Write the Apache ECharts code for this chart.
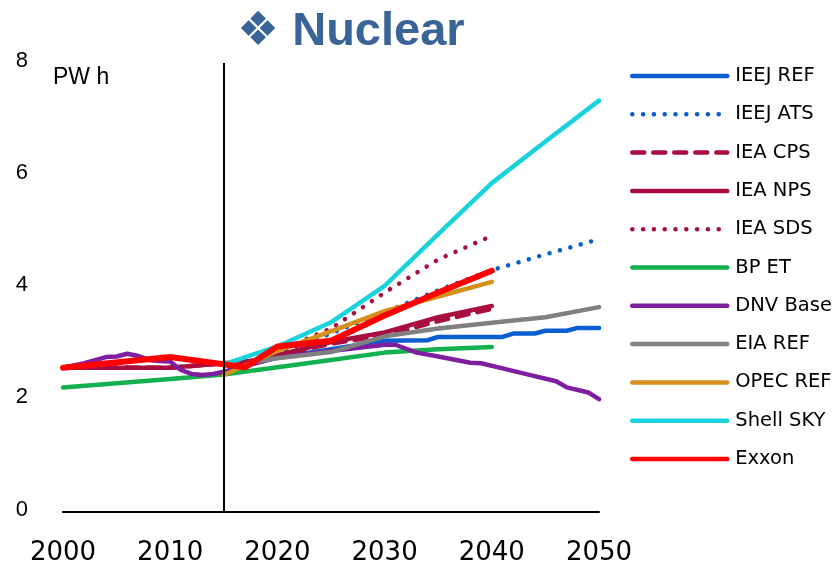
<!DOCTYPE html>
<html>
<head>
<meta charset="utf-8">
<title>Nuclear</title>
<script src="https://cdn.jsdelivr.net/npm/echarts@6/dist/echarts.min.js"></script>
<style>
  html, body { margin: 0; padding: 0; background: #ffffff; }
  #chart { width: 838px; height: 566px; }
</style>
</head>
<body>
<div id="chart"></div>
<script>
// Nuclear power generation outlooks, PWh

const xTicks = [2000, 2010, 2020, 2030, 2040, 2050];
const yTicks = [0, 2, 4, 6, 8];
const historyEnd = 2015;

const ieejRefYears  = [2017, 2020, 2025, 2030, 2034, 2035, 2041, 2042, 2044, 2045, 2047, 2048, 2050];
const ieejRefValues = [2.64, 2.75, 2.90, 3.05, 3.06, 3.12, 3.12, 3.18, 3.18, 3.23, 3.23, 3.28, 3.28];

const ieejAtsYears  = [2017, 2020, 2025, 2030, 2035, 2040, 2045, 2050];
const ieejAtsValues = [2.64, 2.82, 3.18, 3.56, 3.95, 4.31, 4.59, 4.86];

const ieaYears      = [2000, 2010, 2018, 2025, 2030, 2035, 2040];
const ieaCpsValues  = [2.57, 2.57, 2.70, 3.00, 3.15, 3.40, 3.62];
const ieaNpsValues  = [2.57, 2.57, 2.70, 3.03, 3.20, 3.47, 3.67];
const ieaSdsValues  = [2.57, 2.57, 2.70, 3.27, 3.91, 4.50, 4.92];

const bpYears  = [2000, 2010, 2015, 2020, 2025, 2030, 2035, 2040];
const bpValues = [2.22, 2.37, 2.45, 2.58, 2.71, 2.84, 2.90, 2.94];

const dnvYears  = [2000, 2002, 2004, 2005, 2006, 2007, 2008, 2009, 2010, 2011, 2012, 2013, 2014, 2015,
                   2020, 2025, 2030, 2031, 2033, 2035, 2038, 2039, 2041, 2044, 2046, 2047, 2049, 2050];
const dnvValues = [2.57, 2.65, 2.76, 2.77, 2.82, 2.78, 2.71, 2.69, 2.68, 2.53, 2.46, 2.44, 2.46, 2.50,
                   2.75, 2.87, 2.98, 2.98, 2.84, 2.77, 2.66, 2.65, 2.56, 2.42, 2.33, 2.22, 2.13, 2.01];

const eiaYears  = [2018, 2020, 2025, 2030, 2035, 2040, 2045, 2050];
const eiaValues = [2.68, 2.74, 2.85, 3.13, 3.27, 3.37, 3.47, 3.65];

const opecYears  = [2015, 2020, 2025, 2030, 2035, 2040];
const opecValues = [2.44, 2.87, 3.22, 3.58, 3.84, 4.10];

const shellYears  = [2000, 2010, 2015, 2020, 2025, 2030, 2035, 2040, 2045, 2050];
const shellValues = [2.57, 2.76, 2.63, 2.95, 3.38, 4.03, 4.95, 5.86, 6.60, 7.33];

const exxonYears  = [2000, 2010, 2017, 2020, 2025, 2030, 2035, 2040];
const exxonValues = [2.57, 2.76, 2.58, 2.95, 3.05, 3.50, 3.91, 4.30];

const pairs = (xs, ys) => xs.map((x, i) => [x, ys[i]]);

const DOTS = [0.1, 10.7];
const DASHES = [12, 9];

const seriesDefs = [
  { name: 'IEEJ REF',  data: pairs(ieejRefYears, ieejRefValues), color: '#0B5ECF', type: 'solid' },
  { name: 'IEEJ ATS',  data: pairs(ieejAtsYears, ieejAtsValues), color: '#0B5ECF', type: DOTS },
  { name: 'IEA CPS',   data: pairs(ieaYears, ieaCpsValues),     color: '#A80F3F', type: DASHES },
  { name: 'IEA NPS',   data: pairs(ieaYears, ieaNpsValues),     color: '#A80F3F', type: 'solid' },
  { name: 'IEA SDS',   data: pairs(ieaYears, ieaSdsValues),     color: '#A80F3F', type: DOTS },
  { name: 'BP ET',     data: pairs(bpYears, bpValues),          color: '#12B04F', type: 'solid' },
  { name: 'DNV Base',  data: pairs(dnvYears, dnvValues),        color: '#7F1FA0', type: 'solid' },
  { name: 'EIA REF',   data: pairs(eiaYears, eiaValues),        color: '#808080', type: 'solid' },
  { name: 'OPEC REF',  data: pairs(opecYears, opecValues),      color: '#D4901A', type: 'solid' },
  { name: 'Shell SKY', data: pairs(shellYears, shellValues),    color: '#18D2DC', type: 'solid' },
  { name: 'Exxon',     data: pairs(exxonYears, exxonValues),    color: '#FF0000', type: 'solid', width: 6 }
];

const series = seriesDefs.map((d, i) => {
  const s = {
    name: d.name,
    type: 'line',
    data: d.data,
    symbol: 'none',
    showSymbol: false,
    smooth: false,
    color: d.color,
    lineStyle: {
      color: d.color,
      width: d.width || 4.5,
      type: d.type,
      cap: 'round',
      join: 'round'
    },
    z: 2 + i
  };
  if (i === seriesDefs.length - 1) {
    s.markLine = {
      silent: true,
      symbol: 'none',
      label: { show: false },
      lineStyle: { color: '#000000', width: 2, type: 'solid' },
      data: [{ xAxis: historyEnd }],
      z: 20
    };
  }
  return s;
});

const chart = echarts.init(document.getElementById('chart'), null, { renderer: 'canvas' });

chart.setOption({
  animation: false,
  backgroundColor: '#ffffff',
  title: {
    text: '\u2756 Nuclear',
    left: 232,
    top: 4,
    textStyle: {
      color: '#3A6497',
      fontSize: 47,
      fontWeight: 'bold',
      fontFamily: 'Liberation Sans, DejaVu Sans, sans-serif'
    }
  },
  grid: { left: 63, right: 239, top: 63, bottom: 54, containLabel: false },
  xAxis: {
    type: 'value',
    min: xTicks[0],
    max: xTicks[xTicks.length - 1],
    interval: 10,
    axisLine: { show: true, lineStyle: { color: '#000000', width: 2 } },
    axisTick: { show: false },
    splitLine: { show: false },
    axisLabel: {
      margin: 28,
      color: '#000000',
      fontSize: 26,
      fontFamily: 'DejaVu Sans, sans-serif',
      formatter: v => String(v)
    }
  },
  yAxis: {
    type: 'value',
    min: yTicks[0],
    max: yTicks[yTicks.length - 1],
    interval: 2,
    axisLine: { show: false },
    axisTick: { show: false },
    splitLine: { show: false },
    axisLabel: {
      margin: 35,
      color: '#000000',
      formatter: v => '{n|' + v + '}',
      rich: {
        n: {
          fontSize: 22,
          color: '#000000',
          fontFamily: 'Liberation Sans, Arial, sans-serif',
          padding: [0, 0, 5, 0]
        }
      }
    }
  },
  legend: {
    orient: 'vertical',
    left: 630,
    top: 66,
    padding: 0,
    itemWidth: 95,
    itemHeight: 14,
    itemGap: 18.3,
    itemStyle: { opacity: 0, borderWidth: 0 },
    lineStyle: { width: 4.5, cap: 'round' },
    data: seriesDefs.map(d => d.name),
    textStyle: {
      color: '#000000',
      fontSize: 19.5,
      fontFamily: 'DejaVu Sans, sans-serif',
      padding: [0, 0, 0, 3]
    }
  },
  graphic: [
    {
      type: 'text',
      left: 53,
      top: 66,
      style: {
        text: 'PW h',
        fill: '#000000',
        font: '23px "Liberation Sans", Arial, sans-serif'
      }
    }
  ],
  series: series
});
</script>
</body>
</html>
